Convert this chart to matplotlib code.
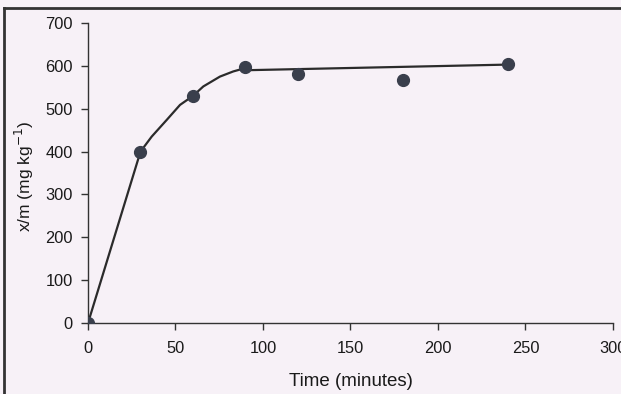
import matplotlib.pyplot as plt
from matplotlib.lines import Line2D

time_min = [0, 30, 60, 90, 120, 180, 240]
xm = [0, 398, 530, 598, 580, 568, 605]

# fitted line
fit_t = [0, 30, 36.4, 45, 52.6, 60, 65.9, 75.4, 83, 90, 92, 240]
fit_y = [0, 400, 435, 474, 509, 530, 552, 575, 587, 595, 590, 603]

plt.rcParams['font.family'] = ['Liberation Sans', 'DejaVu Sans']

fig = plt.figure(figsize=(6.21, 3.94), dpi=100)
fig.patch.set_facecolor('#f7f1f7')
ax = fig.add_axes([0.1417, 0.180, 0.8453, 0.7616])
ax.set_facecolor('none')

ax.plot(fit_t, fit_y, color='#2b2b2b', lw=1.6, zorder=2)
ax.plot(time_min, xm, 'o', color='#3a3f4c', markersize=8.5, zorder=3)

ax.set_xlim(0, 300)
ax.set_ylim(0, 700)
ax.set_xticks([0, 50, 100, 150, 200, 250, 300])
ax.set_yticks(range(0, 701, 100))
for s in ['top', 'right']:
    ax.spines[s].set_visible(False)
for s in ['left', 'bottom']:
    ax.spines[s].set_color('#333333')
    ax.spines[s].set_linewidth(1.0)
ax.tick_params(direction='out', length=5, width=1, color='#333333',
               labelsize=11.8, labelcolor='#1a1a1a')
ax.tick_params(axis='x', pad=8)
ax.tick_params(axis='y', pad=6)
ax.set_xlabel('Time (minutes)', fontsize=13.5, color='#1a1a1a')
ax.set_ylabel('x/m (mg kg$^{-1}$)', fontsize=12.5, color='#1a1a1a')
ax.xaxis.set_label_coords(0.5, -0.165)
ax.yaxis.set_label_coords(-0.099, 0.49)

# scanned page frame
fig.add_artist(Line2D([0.007, 1.0], [0.98, 0.98], transform=fig.transFigure,
                      color='#333333', lw=2))
fig.add_artist(Line2D([0.007, 0.007], [0.0, 0.98], transform=fig.transFigure,
                      color='#333333', lw=2))

fig.savefig('out.png', dpi=100, facecolor=fig.get_facecolor())
